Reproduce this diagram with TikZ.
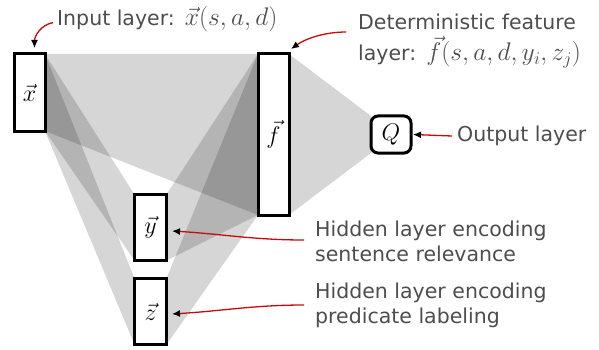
\RequirePackage{fix-cm}
\documentclass[tikz,border=0pt]{standalone}
\usepackage{amsmath}
\usepackage{fontspec}
\setmainfont{DejaVu Sans}
\usepackage{tikz}
\usetikzlibrary{arrows.meta,positioning,backgrounds}
\definecolor{labelgray}{HTML}{4D4D4D}
\definecolor{pointred}{HTML}{C80A0A}
\newcommand{\mth}[1]{\hspace{1.5pt}{\fontsize{25.5}{30}\selectfont$#1$}}

\begin{document}
\begin{tikzpicture}[x=1pt,y=-1pt,
    box/.style={draw,rectangle,line width=3pt,fill=white,inner sep=0pt,outer sep=0pt,font=\fontsize{24}{28}\selectfont},
    fan/.style={fill=black,fill opacity=0.16},
    note/.style={text=labelgray,font=\fontsize{20.5}{25}\selectfont,inner sep=0pt,align=left},
    pointer/.style={draw=pointred,line width=1.3pt,-{Latex[black,length=8pt,width=7pt]}}]
  \useasboundingbox (0,0) rectangle (599,350);
  % layers
  \node[box,minimum width=31pt,minimum height=77pt] (x) at (29.5,92.5) {$\vec{x}$};
  \node[box,minimum width=31pt,minimum height=161pt,right=213pt of x.north east,anchor=north west] (f) {$\vec{f}$};
  \node[box,minimum width=32pt,minimum height=66pt] (y) at (150.5,227.5) {$\vec{y}$};
  \node[box,minimum width=32pt,minimum height=66pt,below=18pt of y] (z) {$\vec{z}$};
  \node[box,minimum width=40pt,minimum height=37pt,rounded corners=7pt,right=82pt of f] (Q) {$Q$};
  % fans between layers
  \begin{scope}[on background layer]
    \foreach \a/\b in {x/f,x/y,x/z,y/f,z/f,f/Q}
      \fill[fan] (\a.north east) -- (\b.north west) -- (\b.south west) -- (\a.south east) -- cycle;
  \end{scope}
  % labels
  \node[note,anchor=base west] (inlbl) at (57,26) {Input layer: \mth{\vec{x}(s,a,d)}};
  \node[note,anchor=north west] (featlbl) at (358,14) {Deterministic feature\\[5pt]layer: \mth{\vec{f}(s,a,d,y_i,z_j)}};
  \node[note,anchor=west] (outlbl) at (457,136) {Output layer};
  \node[note,anchor=north west] (rellbl) at (315,221) {Hidden layer encoding\\sentence relevance};
  \node[note,anchor=north west] (predlbl) at (315,283) {Hidden layer encoding\\predicate labeling};

  \draw[pointer] ([shift={(-4pt,-3pt)}]inlbl.west) .. controls +(-12,2) and +(0,-12) .. ([shift={(5pt,6pt)}]x.north);
  \draw[pointer] ([shift={(-12pt,-18pt)}]featlbl.north west) .. controls +(-22,0) and +(14,-10) .. ([shift={(2pt,5pt)}]f.north east);
  \draw[pointer] ([xshift=-5pt]outlbl.west) -- ([xshift=2pt]Q.east);
  \draw[pointer] ([shift={(-11pt,-19pt)}]rellbl.north west) .. controls +(-50,0) and +(50,3) .. ([shift={(5.5pt,-3.5pt)}]y.east);
  \draw[pointer] ([shift={(-11pt,-22pt)}]predlbl.north west) .. controls +(-50,0) and +(50,-3) .. ([shift={(5.5pt,-2.5pt)}]z.east);
\end{tikzpicture}
\end{document}
